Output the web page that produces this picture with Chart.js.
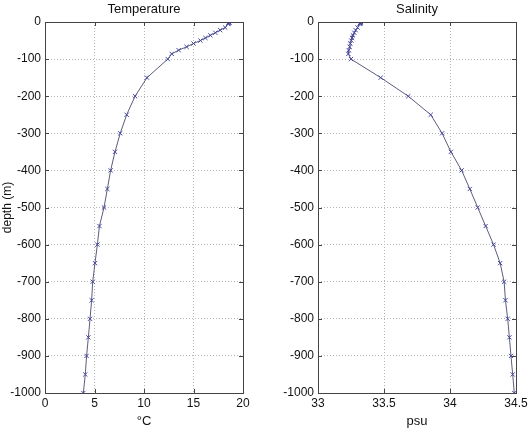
<!DOCTYPE html>
<html>
<head>
<meta charset="utf-8">
<script src="https://cdn.jsdelivr.net/npm/chart.js@4/dist/chart.umd.min.js"></script>
<style>
  html, body { margin: 0; padding: 0; background: #fff; }
  #wrap { position: relative; width: 531px; height: 439px; }
  canvas { position: absolute; top: 0; }
  #c1 { left: 0; }
  #c2 { left: 265px; }
</style>
</head>
<body>
<div id="wrap">
  <canvas id="c1" width="265" height="439"></canvas>
  <canvas id="c2" width="266" height="439"></canvas>
</div>
<script>
// ---- data ----
const depths = [0, -1, -2, -3, -4, -5, -15, -22, -29, -36, -43, -50, -58, -67, -76, -86, -100,
  -150, -200, -250, -300, -350, -400, -450, -500, -550, -600, -650, -700, -750, -800, -850, -900, -950, -1000];
const temperature = [18.6, 18.6, 18.6, 18.55, 18.5, 18.5, 18.2, 17.7, 17.2, 16.7, 16.2, 15.7, 15.0, 14.3, 13.5, 12.8, 12.4,
  10.3, 9.1, 8.25, 7.6, 7.07, 6.63, 6.3, 5.96, 5.5, 5.29, 5.05, 4.82, 4.71, 4.55, 4.38, 4.2, 4.07, 3.87];
const salinity = [33.325, 33.325, 33.322, 33.32, 33.318, 33.315, 33.30, 33.285, 33.275, 33.265, 33.258, 33.252, 33.245, 33.24, 33.233, 33.23, 33.25,
  33.475, 33.684, 33.854, 33.94, 34.007, 34.088, 34.15, 34.21, 34.27, 34.33, 34.38, 34.41, 34.42, 34.437, 34.45, 34.462, 34.475, 34.487];
const tempTicks = { min: 0, max: 20, step: 5 };
const salTicks = { min: 33, max: 34.5, step: 0.5 };
const depthTicks = { min: -1000, max: 0, step: 100 };
const titles = ["Temperature", "Salinity"];
const xTitles = ["\u00B0C", "psu"];
const yTitle = "depth (m)";

const FONT = "'Liberation Sans', Arial, sans-serif";
const fmt = v => String(Math.round(v * 100) / 100);

const boxPlugin = {
  id: 'box',
  afterDraw(chart) {
    const { ctx, chartArea: a, scales } = chart;
    ctx.save();
    ctx.strokeStyle = '#444';
    ctx.lineWidth = 1;
    ctx.strokeRect(Math.round(a.left) + 0.5, Math.round(a.top) + 0.5,
      Math.round(a.right - a.left), Math.round(a.bottom - a.top));
    const L = 4;
    ctx.beginPath();
    scales.x.ticks.forEach(t => {
      const px = Math.round(scales.x.getPixelForValue(t.value)) + 0.5;
      ctx.moveTo(px, a.bottom); ctx.lineTo(px, a.bottom - L);
      ctx.moveTo(px, a.top); ctx.lineTo(px, a.top + L);
    });
    scales.y.ticks.forEach(t => {
      const py = Math.round(scales.y.getPixelForValue(t.value)) + 0.5;
      ctx.moveTo(a.left, py); ctx.lineTo(a.left + L, py);
      ctx.moveTo(a.right, py); ctx.lineTo(a.right - L, py);
    });
    ctx.stroke();
    ctx.restore();
  }
};

function makeChart(id, xs, xr, title, xTitle, showYTitle, yWidth, rightPad) {
  const pts = depths.map((d, i) => ({ x: xs[i], y: d }));
  return new Chart(document.getElementById(id), {
    type: 'scatter',
    data: {
      datasets: [{
        data: pts,
        showLine: true,
        borderColor: '#5c5c7c',
        borderWidth: 1,
        pointStyle: 'crossRot',
        pointRadius: 3,
        pointBorderColor: '#4545a0',
        pointBorderWidth: 1,
        pointBackgroundColor: 'transparent',
        tension: 0
      }]
    },
    options: {
      responsive: false,
      animation: false,
      layout: { padding: { right: rightPad, top: 0, bottom: 0, left: 0 } },
      plugins: {
        legend: { display: false },
        tooltip: { enabled: false },
        title: { display: false }
      },
      scales: {
        x: {
          type: 'linear', min: xr.min, max: xr.max,
          ticks: { stepSize: xr.step, color: '#111', font: { family: FONT, size: 12 }, padding: 3, callback: fmt },
          grid: { color: '#b5b5b5', drawTicks: false },
          border: { display: false, dash: [1, 2] },
          title: { display: true, text: xTitle, color: '#111', font: { family: FONT, size: 13 }, padding: { top: 1, bottom: 10 } },
          afterFit(s) { s.height = 46; }
        },
        x2: {
          type: 'linear', position: 'top', min: xr.min, max: xr.max,
          ticks: { display: false },
          grid: { display: false, drawTicks: false },
          border: { display: false },
          title: { display: true, text: title, color: '#111', font: { family: FONT, size: 13 }, padding: { top: 2, bottom: 4 } },
          afterFit(s) { s.height = 22; }
        },
        y: {
          type: 'linear', min: depthTicks.min, max: depthTicks.max,
          ticks: { stepSize: depthTicks.step, color: '#111', font: { family: FONT, size: 12 }, padding: 4, callback: fmt },
          grid: { color: '#b5b5b5', drawTicks: false },
          border: { display: false, dash: [1, 2] },
          title: { display: showYTitle, text: yTitle, color: '#111', font: { family: FONT, size: 12 }, padding: 0 },
          afterFit(s) { s.width = yWidth; }
        }
      }
    },
    plugins: [boxPlugin]
  });
}

makeChart('c1', temperature, tempTicks, titles[0], xTitles[0], true, 45, 22);
makeChart('c2', salinity, salTicks, titles[1], xTitles[1], false, 53, 15);
</script>
</body>
</html>
